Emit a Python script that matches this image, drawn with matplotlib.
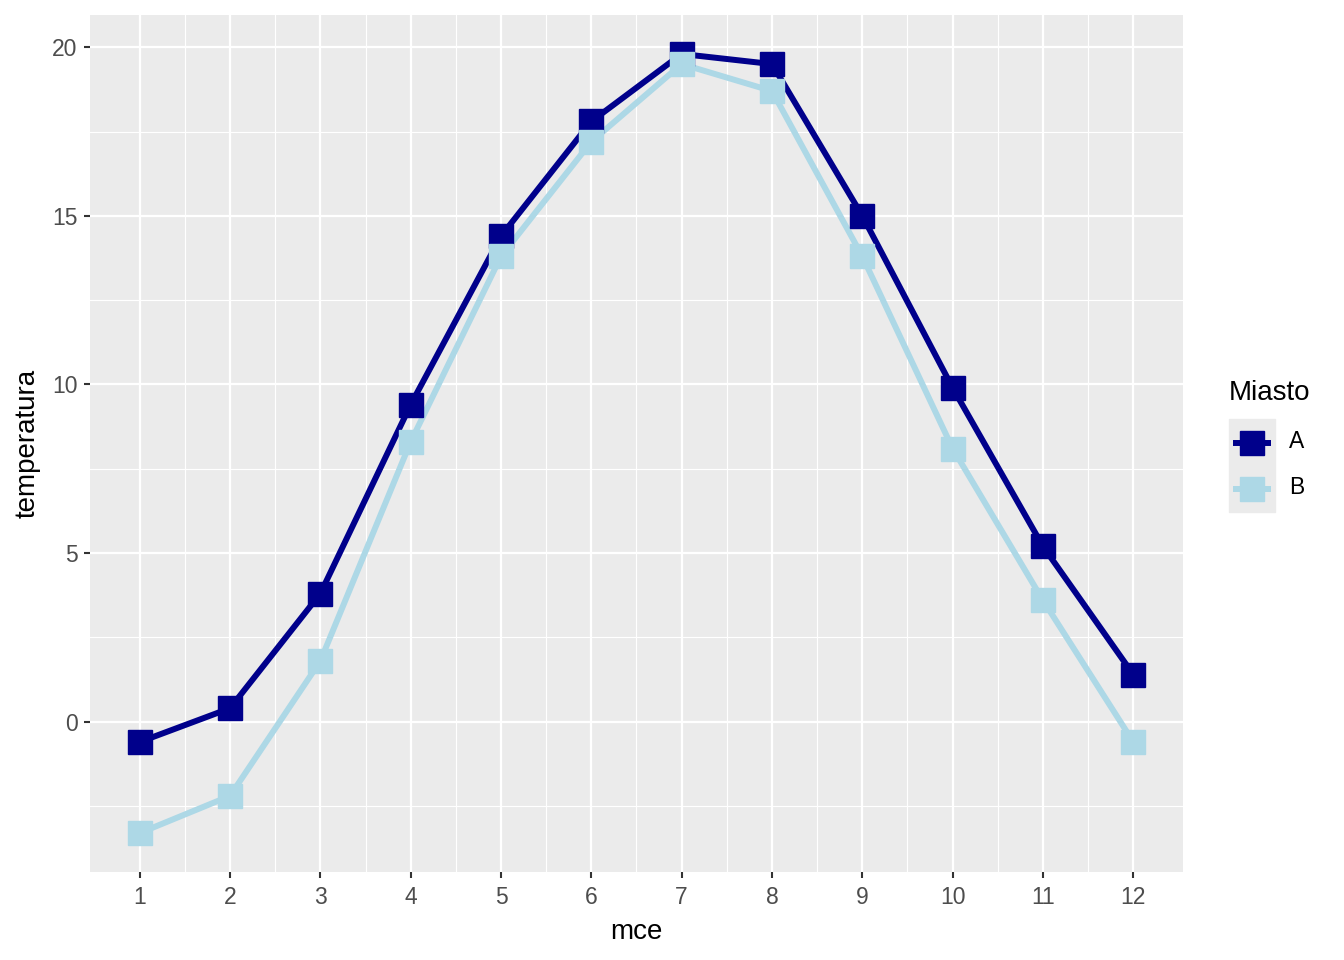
import matplotlib.pyplot as plt
from matplotlib.lines import Line2D
from matplotlib.patches import Rectangle
import numpy as np

# data
months = [1, 2, 3, 4, 5, 6, 7, 8, 9, 10, 11, 12]
temp_a = [-0.6, 0.4, 3.8, 9.4, 14.4, 17.8, 19.8, 19.5, 15.0, 9.9, 5.2, 1.4]
temp_b = [-3.3, -2.2, 1.8, 8.3, 13.8, 17.2, 19.5, 18.7, 13.8, 8.1, 3.6, -0.6]
cities = ["A", "B"]
colors = ["#00008B", "#ADD8E6"]

plt.rcParams['font.family'] = ['Liberation Sans', 'DejaVu Sans']

fig = plt.figure(figsize=(13.44, 9.6), dpi=100)
ax = fig.add_axes([90 / 1344, 1 - 872 / 960, (1183 - 90) / 1344, (872 - 15) / 960])
ax.set_facecolor("#EBEBEB")

series = [temp_a, temp_b]
# lines first, then points (like ggplot layers)
for vals, c in zip(series, colors):
    ax.plot(months, vals, color=c, lw=4.3, zorder=3, solid_capstyle='butt')
for vals, c in zip(series, colors):
    ax.plot(months, vals, ls='none', marker='s', ms=17, color=c, zorder=4)

allv = temp_a + temp_b
lo, hi = min(allv), max(allv)
pad = (hi - lo) * 0.05
ax.set_ylim(lo - pad, hi + pad)
ax.set_xlim(1 - 0.55, 12 + 0.55)

ax.set_xticks(months)
ax.set_xticks(np.arange(1.5, 12, 1), minor=True)
ax.set_yticks([0, 5, 10, 15, 20])
ax.set_yticks([-2.5, 2.5, 7.5, 12.5, 17.5], minor=True)
ax.grid(which='major', color='white', lw=1.6, zorder=1)
ax.grid(which='minor', color='white', lw=0.8, zorder=1)
ax.set_axisbelow(True)
for s in ax.spines.values():
    s.set_visible(False)

ax.tick_params(which='major', length=4, width=1.5, color='#333333',
               labelsize=16.5, labelcolor='#4D4D4D', pad=6)
ax.tick_params(axis='y', which='major', pad=5)
ax.tick_params(which='minor', length=0)

ax.set_xlabel("mce", fontsize=20, labelpad=7)
ax.set_ylabel("temperatura", fontsize=20, labelpad=8)

# legend drawn by hand in figure pixels
W, H = 1344, 960
fig.text(1229 / W, 1 - 393 / H, "Miasto", fontsize=20, va='center', ha='left')
fig.patches.append(Rectangle((1229 / W, 1 - 512 / H), 46 / W, 93 / H,
                             transform=fig.transFigure, color="#EBEBEB", zorder=0))
for i, (name, c) in enumerate(zip(cities, colors)):
    yk = 1 - (443 + 46 * i) / H
    fig.lines.append(Line2D([1233 / W, 1271 / W], [yk, yk], transform=fig.transFigure,
                            color=c, lw=4.3, solid_capstyle='butt'))
    fig.lines.append(Line2D([1252 / W], [yk], transform=fig.transFigure,
                            marker='s', ms=17, color=c, ls='none'))
    fig.text(1289 / W, yk + 1 / H, name, fontsize=16.5, va='center', ha='left')

fig.savefig("out.png", dpi=100)
